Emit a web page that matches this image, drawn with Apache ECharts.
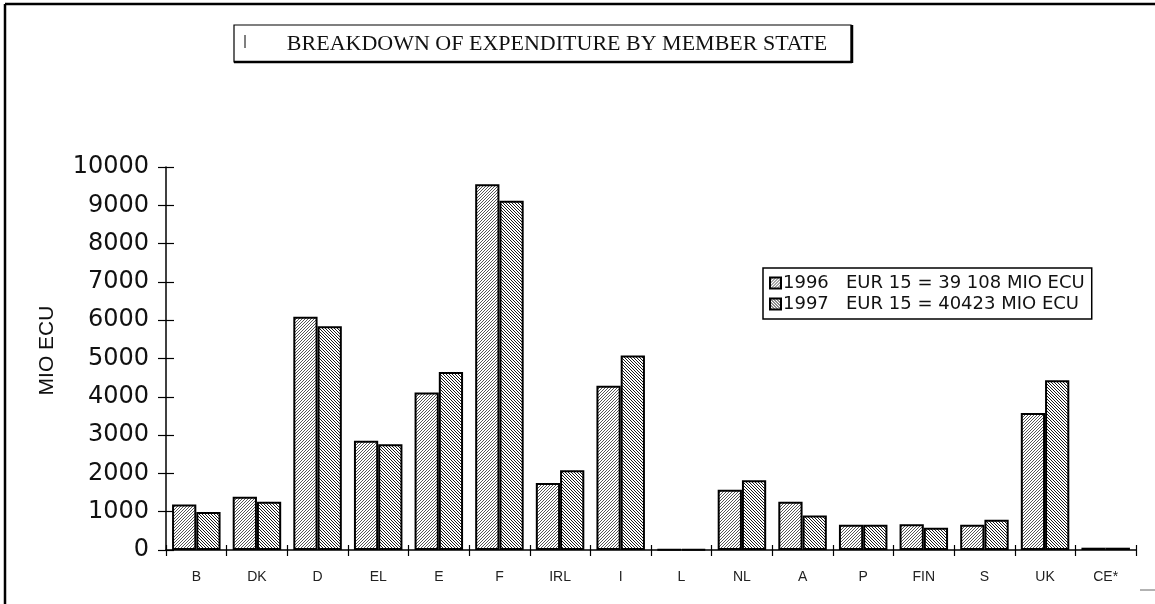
<!DOCTYPE html>
<html>
<head>
<meta charset="utf-8">
<script src="https://cdn.jsdelivr.net/npm/echarts@6/dist/echarts.min.js"></script>
<style>
html,body{margin:0;padding:0;background:#fff;}
#chart{width:1155px;height:604px;}
</style>
</head>
<body>
<div id="chart"></div>
<script>
const categories = ['B','DK','D','EL','E','F','IRL','I','L','NL','A','P','FIN','S','UK','CE*'];
const values1996 = [1190,1390,6090,2850,4110,9550,1750,4290,15,1570,1260,660,670,660,3580,60];
const values1997 = [990,1260,5840,2760,4650,9120,2080,5080,15,1820,900,660,580,790,4430,60];
const seriesNames = ['1996   EUR 15 = 39 108 MIO ECU', '1997   EUR 15 = 40423 MIO ECU'];
const yMin = 0, yMax = 10000, yStep = 1000;
const titleText = 'BREAKDOWN OF EXPENDITURE BY MEMBER STATE';
const yAxisTitle = 'MIO ECU';

function hatch(forward, n, color, lw) {
  const c = document.createElement('canvas');
  c.width = n; c.height = n;
  const g = c.getContext('2d');
  g.fillStyle = '#fff'; g.fillRect(0, 0, n, n);
  g.strokeStyle = color; g.lineWidth = lw;
  g.beginPath();
  if (forward) {
    g.moveTo(-1, n + 1); g.lineTo(n + 1, -1);
    g.moveTo(-1, 1); g.lineTo(1, -1);
    g.moveTo(n - 1, n + 1); g.lineTo(n + 1, n - 1);
  } else {
    g.moveTo(-1, -1); g.lineTo(n + 1, n + 1);
    g.moveTo(n - 1, -1); g.lineTo(n + 1, 1);
    g.moveTo(-1, n - 1); g.lineTo(1, n + 1);
  }
  g.stroke();
  return c;
}
const pat1996 = { image: hatch(true, 3, '#555', 1), repeat: 'repeat' };
const pat1997 = { image: hatch(false, 3, '#1a1a1a', 1), repeat: 'repeat' };

const chart = echarts.init(document.getElementById('chart'));
const gridL = 166, gridR = 19, gridT = 167, gridB = 54;
const axisLineStyle = { color: '#000', width: 1.5 };
chart.setOption({
  animation: false,
  backgroundColor: '#fff',
  grid: { left: gridL, right: gridR, top: gridT, bottom: gridB, containLabel: false },
  legend: {
    orient: 'vertical',
    left: 763, top: 268,
    padding: [6, 7, 6, 6],
    itemGap: 3,
    itemWidth: 11, itemHeight: 11,
    icon: 'rect',
    borderColor: '#000', borderWidth: 1.5,
    backgroundColor: '#fff',
    textStyle: { fontFamily: 'DejaVu Sans', fontSize: 18, color: '#111', padding: [0, 0, 0, -3] },
    data: seriesNames
  },
  xAxis: [
    {
      type: 'category', data: categories, position: 'bottom', offset: 0,
      axisLine: { lineStyle: axisLineStyle },
      axisTick: { show: true, length: 6, lineStyle: { color: '#000', width: 1.2 } },
      axisLabel: { color: '#222', fontFamily: 'Liberation Sans', fontSize: 14, margin: 20 },
      splitLine: { show: false }
    },
    {
      type: 'category', data: categories, position: 'bottom', offset: 0,
      axisLine: { show: false },
      axisTick: { show: true, inside: true, length: 5, lineStyle: { color: '#000', width: 1.2 } },
      axisLabel: { show: false },
      splitLine: { show: false }
    }
  ],
  yAxis: [
    {
      type: 'value', min: yMin, max: yMax, interval: yStep, position: 'left', offset: 0,
      name: yAxisTitle, nameLocation: 'middle', nameGap: 108, nameRotate: 90,
      nameTextStyle: { fontFamily: 'Liberation Sans', fontSize: 21, color: '#111', padding: [0, 0, 0, 16] },
      axisLine: { show: true, lineStyle: axisLineStyle },
      axisTick: { show: true, length: 8, lineStyle: { color: '#000', width: 1.2 } },
      axisLabel: { color: '#111', fontFamily: 'DejaVu Sans', fontSize: 24, margin: 17,
                   formatter: function (v) { return String(v); } },
      splitLine: { show: false }
    },
    {
      type: 'value', min: yMin, max: yMax, interval: yStep, position: 'left', offset: 0,
      axisLine: { show: false },
      axisTick: { show: true, inside: true, length: 8, lineStyle: { color: '#000', width: 1.2 } },
      axisLabel: { show: false },
      splitLine: { show: false }
    }
  ],
  series: [
    {
      name: seriesNames[0], type: 'bar', data: values1996,
      xAxisIndex: 0, yAxisIndex: 0,
      barGap: '0%', barCategoryGap: '20%',
      itemStyle: { color: pat1996, borderColor: '#000', borderWidth: 2 }
    },
    {
      name: seriesNames[1], type: 'bar', data: values1997,
      xAxisIndex: 0, yAxisIndex: 0,
      barGap: '0%', barCategoryGap: '20%',
      itemStyle: { color: pat1997, borderColor: '#000', borderWidth: 2 }
    }
  ],
  graphic: [
    { type: 'line', shape: { x1: 5, y1: 4, x2: 1155, y2: 4 }, style: { stroke: '#000', lineWidth: 2.5 } },
    { type: 'line', shape: { x1: 5, y1: 4, x2: 5, y2: 604 }, style: { stroke: '#000', lineWidth: 2.5 } },
    { type: 'line', shape: { x1: 1140, y1: 590, x2: 1155, y2: 590 }, style: { stroke: '#666', lineWidth: 1 } },
    { type: 'rect', shape: { x: 234, y: 25, width: 617, height: 37 }, style: { fill: '#fff', stroke: '#000', lineWidth: 1.2 } },
    { type: 'line', shape: { x1: 234, y1: 62, x2: 852, y2: 62 }, style: { stroke: '#000', lineWidth: 2.5 } },
    { type: 'line', shape: { x1: 852, y1: 25, x2: 852, y2: 63 }, style: { stroke: '#000', lineWidth: 2.5 } },
    { type: 'line', shape: { x1: 245, y1: 35, x2: 245, y2: 48 }, style: { stroke: '#000', lineWidth: 1 } },
    { type: 'text', x: 557, y: 44, style: { text: titleText, fontFamily: 'Liberation Serif', fontSize: 22, fill: '#111', align: 'center', verticalAlign: 'middle' } }
  ]
});
</script>
</body>
</html>
